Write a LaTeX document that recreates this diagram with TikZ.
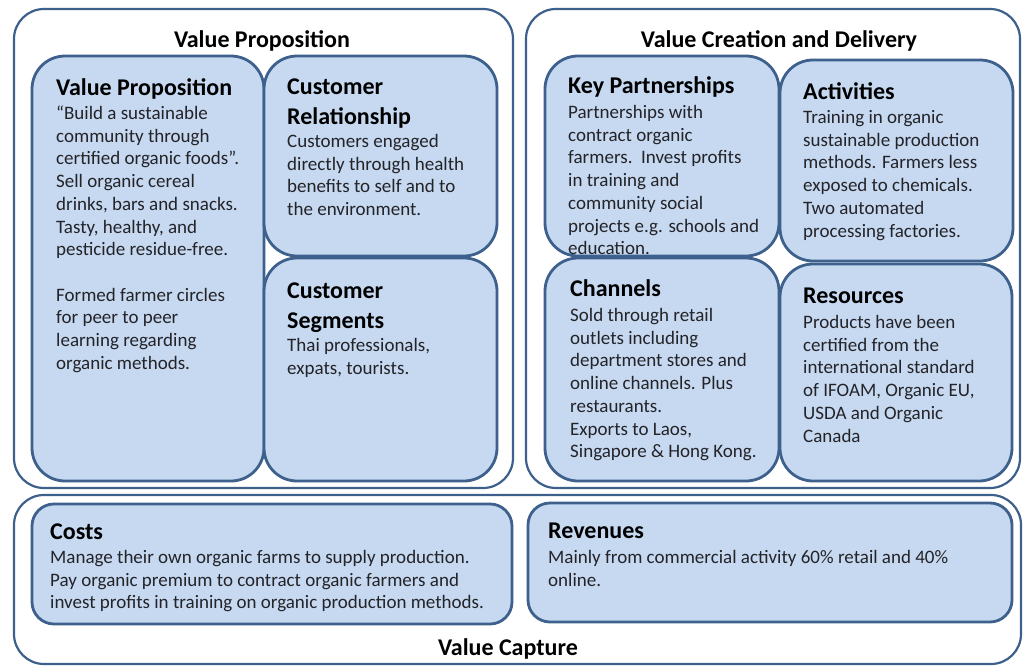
\documentclass[tikz,border=0pt]{standalone}
\usepackage{fontspec}
\setmainfont{Carlito}
\definecolor{boxfill}{RGB}{198,217,241}
\definecolor{boxline}{RGB}{62,96,140}
\definecolor{bodytext}{RGB}{35,35,40}
\newcommand{\txtlines}[1]{\begin{tabular}[t]{@{}l@{}}#1\end{tabular}}
\begin{document}
\begin{tikzpicture}[x=1pt,y=-1pt,
  outerbox/.style={draw=boxline, line width=2.2pt, fill=white, rounded corners=30pt, anchor=north west, inner sep=0pt, outer sep=0pt},
  innerbox/.style={draw=boxline, line width=2.8pt, fill=boxfill, rounded corners=33pt, anchor=north west, inner sep=0pt, outer sep=0pt},
  flatbox/.style={innerbox, rounded corners=22pt},
  head/.style={anchor=base west, inner sep=0pt, yshift=-1.5pt, font=\fontsize{24}{29.5}\selectfont\bfseries},
  body/.style={anchor=base west, inner sep=0pt, yshift=-1.5pt, text=bodytext, font=\fontsize{19}{22.7}\selectfont},
  title/.style={anchor=base, inner sep=0pt, yshift=-1.5pt, font=\fontsize{24}{28}\selectfont\bfseries}]
\useasboundingbox (0,0) rectangle (1026,667);
\fill[white] (0,0) rectangle (1026,667);
% outer boxes
\node[outerbox, minimum width=499pt, minimum height=479pt] (vpouter) at (14,9) {};
\node[outerbox, minimum width=494pt, minimum height=479pt] (vcouter) at (526,9) {};
\node[outerbox, minimum width=1007pt, minimum height=169pt] (capouter) at (14,495) {};
\node[title] (vptitle) at (262,46) {Value Proposition};
\node[title] (vctitle) at (779,46) {Value Creation and Delivery};
\node[title] (captitle) at (508,654) {Value Capture};
% value proposition group
\node[innerbox, minimum width=232pt, minimum height=425pt] (vpbox) at (32,56) {};
\node[innerbox, minimum width=233pt, minimum height=200pt] (crbox) at (264,56) {};
\node[innerbox, minimum width=233pt, minimum height=223pt] (csbox) at (264,258) {};
\node[head] (vphead) at (56,94) {Value Proposition};
\node[body] (vptext) at (56,118) {\txtlines{“Build a sustainable\\community through\\certified organic foods”.\\Sell organic cereal\\drinks, bars and snacks.\\Tasty, healthy, and\\pesticide residue-free.\\ \\Formed farmer circles\\for peer to peer\\learning regarding\\organic methods.}};
\node[head] (crhead) at (287,93) {\txtlines{Customer\\Relationship}};
\node[body] (crtext) at (287,146) {\txtlines{Customers engaged\\directly through health\\benefits to self and to\\the environment.}};
\node[head] (cshead) at (287,297) {\txtlines{Customer\\Segments}};
\node[body] (cstext) at (287,350) {\txtlines{Thai professionals,\\expats, tourists.}};
% value creation group
\node[innerbox, minimum width=234pt, minimum height=200pt] (kpbox) at (545,56) {};
\node[head] (kphead) at (568,92) {Key Partnerships};
\node[body] (kptext) at (568,117) {\txtlines{Partnerships with\\contract organic\\farmers.\ \ Invest profits\\in training and\\community social\\projects e.g. schools and\\education.}};
\node[innerbox, minimum width=233pt, minimum height=201pt] (actbox) at (780,60) {};
\node[head] (acthead) at (803,98) {Activities};
\node[body] (acttext) at (803,122) {\txtlines{Training in organic\\sustainable production\\methods. Farmers less\\exposed to chemicals.\\Two automated\\processing factories.}};
\node[innerbox, minimum width=234pt, minimum height=223pt] (chbox) at (545,258) {};
\node[head] (chhead) at (570,295) {Channels};
\node[body] (chtext) at (570,320) {\txtlines{Sold through retail\\outlets including\\department stores and\\online channels. Plus\\restaurants.\\Exports to Laos,\\Singapore \& Hong Kong.}};
\node[innerbox, minimum width=232pt, minimum height=217pt] (resbox) at (780,264) {};
\node[head] (reshead) at (803,302) {Resources};
\node[body] (restext) at (803,327) {\txtlines{Products have been\\certified from the\\international standard\\of IFOAM, Organic EU,\\USDA and Organic\\Canada}};
% value capture group
\node[flatbox, minimum width=480pt, minimum height=120pt] (costbox) at (32,504) {};
\node[head] (costhead) at (50,538) {Costs};
\node[body] (costtext) at (50,562) {\txtlines{Manage their own organic farms to supply production.\\Pay organic premium to contract organic farmers and\\invest profits in training on organic production methods.}};
\node[flatbox, minimum width=484pt, minimum height=119pt] (revbox) at (528,503) {};
\node[head] (revhead) at (548,537) {Revenues};
\node[body] (revtext) at (548,562) {\txtlines{Mainly from commercial activity 60\% retail and 40\%\\online.}};
\end{tikzpicture}
\end{document}
